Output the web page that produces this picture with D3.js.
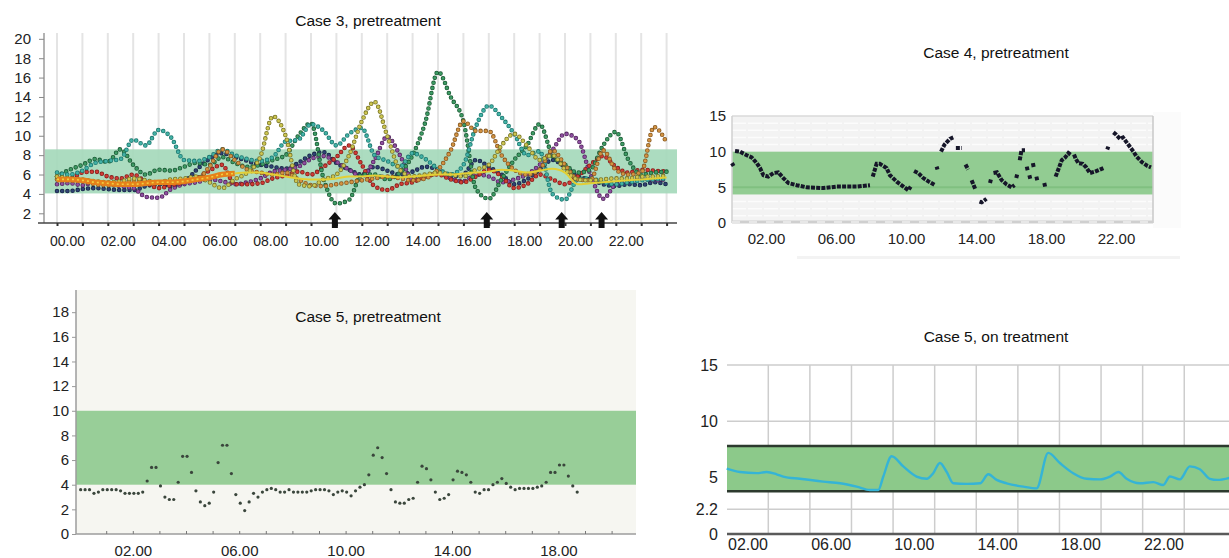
<!DOCTYPE html>
<html>
<head>
<meta charset="UTF-8">
<title>Glucose profiles, cases 3 to 5</title>
<style>
  body { margin: 0; background: #fff; }
  svg { display: block; font-family: "Liberation Sans", Arial, Helvetica, sans-serif; }
  .tick text { fill: #222; }
</style>
</head>
<body>
<svg id="chart" width="1229" height="558"></svg>
<script src="https://cdn.jsdelivr.net/npm/d3@7/dist/d3.min.js"></script>
<script>

/* DATA */

// case 3: several days overlaid, one reading every half hour from 00.00 to 24.00
var case3Hours = [0,0.5,1,1.5,2,2.5,3,3.5,4,4.5,5,5.5,6,6.5,7,7.5,8,8.5,9,9.5,10,10.5,11,11.5,12,12.5,
  13,13.5,14,14.5,15,15.5,16,16.5,17,17.5,18,18.5,19,19.5,20,20.5,21,21.5,22,22.5,23,23.5,24];
var case3Navy = [4.3,4.3,4.5,4.6,4.5,4.4,4.4,4.8,5.0,4.8,5.2,6.5,7.6,8.2,7.8,7.4,7.0,6.8,6.6,7.2,8.0,8.3,7.2,6.5,6.0,
  6.8,6.4,6.0,6.3,6.8,6.5,5.8,6.0,7.5,6.8,6.0,5.0,5.5,6.5,7.5,6.8,5.8,5.5,5.0,4.8,5.0,4.9,5.2,5.0];
var case3Purple = [5.0,5.1,4.9,5.2,5.0,4.8,4.6,3.7,3.6,4.5,5.0,5.2,5.5,5.3,5.0,5.2,5.6,6.3,6.5,6.8,7.6,7.9,7.3,6.5,5.8,
  7.5,9.9,8.0,5.5,5.8,6.2,5.6,5.3,6.0,5.8,5.2,5.5,6.0,7.0,8.5,10.2,9.6,6.0,3.5,5.0,5.3,5.6,5.4,5.5];
var case3Red = [5.8,5.6,6.2,6.3,5.8,5.6,6.0,5.2,4.6,4.9,5.2,5.6,6.4,7.0,5.0,5.0,5.1,5.6,5.9,6.3,6.0,6.8,7.8,9.0,7.0,
  4.8,4.4,5.0,5.2,5.8,6.0,5.5,5.2,5.8,6.5,5.8,4.6,5.0,6.0,5.5,5.0,5.8,7.0,7.9,6.8,6.2,6.5,6.4,6.3];
var case3Green = [5.8,6.5,7.0,7.6,7.3,8.6,7.0,6.0,6.5,6.4,6.8,7.2,7.0,7.8,7.2,6.8,7.0,7.5,8.0,10.0,11.3,5.5,3.0,3.4,6.0,
  6.0,5.5,6.2,8.0,11.4,16.6,14.0,11.5,4.5,3.5,5.5,7.5,9.0,11.2,8.0,7.0,6.2,6.5,9.0,10.4,7.5,6.0,6.2,6.3];
var case3Teal = [6.2,6.0,6.4,7.2,7.4,7.6,9.6,9.0,10.6,9.8,7.5,7.4,7.8,8.6,8.0,7.6,7.4,7.8,9.4,9.6,11.2,10.5,9.0,10.2,10.8,
  8.0,7.4,6.8,8.2,7.6,6.6,6.0,7.0,11.0,13.1,11.9,10.2,8.0,8.4,4.0,3.4,5.5,5.6,5.2,5.0,5.2,5.4,5.5,5.6];
var case3Orange = [5.5,5.4,5.3,5.0,4.9,5.0,5.4,5.2,5.1,5.2,5.3,5.5,6.8,8.6,7.5,6.5,6.2,6.0,6.2,5.5,4.9,4.8,5.0,5.2,5.4,
  5.6,5.8,5.6,5.4,5.6,6.5,8.5,11.5,10.5,10.5,8.0,6.5,6.0,6.5,8.5,7.0,5.5,5.4,8.5,6.5,6.0,6.2,10.9,9.3];
var case3Olive = [5.8,5.6,5.5,5.3,5.2,5.3,5.6,5.4,5.2,5.5,5.6,5.8,5.2,4.6,5.5,6.2,7.8,12.0,10.0,5.0,4.8,5.5,6.0,8.0,11.5,
  13.5,10.0,6.5,5.8,6.0,6.2,6.0,5.8,6.5,7.0,9.0,10.2,9.0,7.5,8.0,6.5,5.5,5.4,5.5,5.6,5.6,5.8,5.8,5.9];
var case3Trend = [5.5,5.5,5.4,5.2,5.1,5.0,5.0,5.1,5.2,5.2,5.3,5.5,5.7,6.0,6.1,6.2,6.2,6.0,5.8,5.6,5.5,5.5,5.6,5.8,5.8,
  5.9,5.8,5.7,5.8,5.9,6.0,6.0,6.1,6.2,6.3,6.5,6.4,6.2,6.4,6.6,6.2,5.0,5.1,5.2,5.3,5.4,5.5,5.6,5.7];
var case3Target = [4.05, 8.6];
var case3Arrows = [10.94, 16.92, 19.87, 21.44];

// case 4: runs of readings [hour, value]; gaps between runs
var case4Runs = [
  [[0.05,8.4],[0.15,8.0]],
  [[0.23,10.1],[0.51,10.0],[0.9,9.5],[1.18,9.2],[1.47,8.4],[1.66,7.7],[1.85,6.7],[2.13,6.5],[2.42,7.0],[2.7,7.1],
   [2.99,6.3],[3.28,5.6],[3.75,5.3],[4.32,5.0],[5.28,4.9],[6.04,5.1],[7.18,5.1],[7.94,5.3]],
  [[8.1,6.5],[8.32,8.3],[8.5,8.3],[8.7,8.0],[8.89,7.7],[9.08,6.7],[9.47,5.8],[9.85,5.1],[10.13,4.6],[10.27,5.1]],
  [[10.46,7.3],[10.7,7.0],[10.99,6.3],[11.3,5.8],[11.66,5.3]],
  [[11.75,7.9],[11.8,7.5]],
  [[12.0,10.0],[12.2,11.0],[12.51,11.8],[12.7,12.0]],
  [[12.85,10.5],[13.18,10.5]],
  [[13.4,8.2],[13.55,7.5]],
  [[13.75,6.0],[13.95,4.8]],
  [[14.2,3.0],[14.32,2.9],[14.6,3.4]],
  [[14.8,5.6],[14.85,6.1]],
  [[15.0,7.0],[15.2,7.1],[15.47,6.0],[15.75,5.4],[16.04,5.0],[16.2,5.3]],
  [[16.3,6.3],[16.35,6.8]],
  [[16.5,8.8],[16.6,10.2],[16.8,10.2]],
  [[16.9,7.9],[16.95,7.4]],
  [[17.05,6.7],[17.1,6.2]],
  [[17.25,8.4],[17.3,7.8]],
  [[17.45,6.5],[17.5,6.0]],
  [[17.9,5.6],[17.95,5.1]],
  [[18.55,6.5],[18.75,7.8],[18.9,8.8],[19.1,9.2],[19.28,9.8],[19.45,9.5]],
  [[19.6,9.6],[19.7,9.0],[19.85,8.4],[20.1,8.3],[20.3,7.8],[20.51,7.0],[20.8,7.2],[21.0,7.4],[21.28,7.7]],
  [[21.5,10.3],[21.56,10.7]],
  [[21.85,12.7],[22.0,12.4],[22.23,11.8],[22.4,12.0],[22.7,11.0],[23.0,10.0],[23.18,9.3],[23.5,8.5],[23.8,8.0],[24.0,7.8]]
];
var case4Target = [4, 10];

// case 5 pretreatment: one reading every 10 minutes from 00.02
var case5PreStart = 0.04;
var case5PreStep = 1 / 6;
var case5PreValues = [3.6,3.6,3.6,3.3,3.4,3.6,3.6,3.6,3.6,3.5,3.3,3.3,3.3,3.3,3.4,4.3,5.4,5.4,3.9,3.0,
  2.8,2.8,4.2,6.3,6.3,5.0,3.5,2.6,2.3,2.5,3.4,5.8,7.2,7.2,4.9,3.2,2.5,1.9,2.6,3.3,
  3.0,3.4,3.6,3.7,3.6,3.4,3.4,3.6,3.4,3.4,3.4,3.4,3.5,3.6,3.6,3.6,3.5,3.2,3.4,3.5,3.4,
  3.1,3.5,3.8,4.0,4.8,6.4,7.0,6.2,4.9,3.6,2.6,2.5,2.5,2.8,2.9,4.2,5.5,5.3,4.4,3.4,
  2.8,2.9,3.2,4.4,5.1,5.0,4.8,4.2,3.4,3.3,3.6,3.6,4.0,4.2,4.5,4.1,3.8,3.6,3.7,3.7,
  3.7,3.7,3.8,3.9,4.2,5.0,5.0,5.6,5.6,4.7,3.9,3.4];
var case5PreTarget = [4, 10];

// case 5 on treatment: continuous trace
var case5OnHours = [1.0,1.64,2.44,2.92,3.4,3.72,4.52,5.64,6.45,7.25,7.89,8.29,8.53,8.93,9.49,10.13,10.62,10.93,
  11.25,11.58,11.9,12.54,13.18,13.58,13.98,14.46,15.26,15.9,16.46,17.02,17.66,18.31,18.95,19.43,19.83,
  20.23,20.87,21.51,21.99,22.31,22.79,23.27,23.75,24.23,24.6,25.2];
var case5OnValues = [5.8,5.5,5.4,5.5,5.3,5.1,4.9,4.65,4.5,4.2,3.9,3.9,5.1,6.9,6.0,5.1,4.9,5.4,6.3,5.5,4.5,4.45,4.5,
  5.3,4.8,4.5,4.2,4.05,7.2,6.3,5.4,4.9,4.85,5.1,5.5,4.9,4.5,4.6,4.35,5.1,4.85,6.0,5.75,4.9,4.8,5.0];
var case5OnTarget = [3.8, 7.8];

var hourTicks4 = [2, 6, 10, 14, 18, 22];
var hourTicks3 = [0, 2, 4, 6, 8, 10, 12, 14, 16, 18, 20, 22];

/* HELPERS */

function hh(d) { return d3.format("02")(d) + ".00"; }

var svg = d3.select("#chart");

/* CASE 3, PRETREATMENT (top left) */

var x1 = d3.scaleLinear().domain([0, 24]).range([57, 666.6]);
var y1 = d3.scaleLinear().domain([1, 20.6]).range([223, 33]);
var p1 = svg.append("g");

p1.append("g").selectAll("line")
  .data(d3.range(0, 25))
  .enter().append("line")
    .attr("x1", function(d) { return x1(d); })
    .attr("x2", function(d) { return x1(d); })
    .attr("y1", 33).attr("y2", 223)
    .attr("stroke", "#e4e4e4").attr("stroke-width", 2);

p1.append("rect")
  .attr("x", 45).attr("width", 632)
  .attr("y", y1(case3Target[1]))
  .attr("height", y1(case3Target[0]) - y1(case3Target[1]))
  .attr("fill", "#a3d8b9").attr("opacity", 0.9);

var line1 = d3.line()
  .x(function(d, i) { return x1(case3Hours[i]); })
  .y(function(d) { return y1(d); })
  .curve(d3.curveMonotoneX);

var case3Colors = [
  { values: case3Navy,   fill: "#2f4373", edge: "#1a2548" },
  { values: case3Purple, fill: "#8f4fa1", edge: "#55295f" },
  { values: case3Red,    fill: "#cf3c36", edge: "#861f1b" },
  { values: case3Green,  fill: "#3e9b64", edge: "#1d5c37" },
  { values: case3Teal,   fill: "#43b2a6", edge: "#1d7870" },
  { values: case3Orange, fill: "#d39342", edge: "#885a22" },
  { values: case3Olive,  fill: "#cdc651", edge: "#7a7629" }
];

case3Colors.forEach(function(s) {
  p1.append("path")
    .attr("d", line1(s.values))
    .attr("fill", "none").attr("stroke", s.edge)
    .attr("stroke-width", 4.6).attr("stroke-linecap", "round")
    .attr("stroke-dasharray", "0 5.2");
  p1.append("path")
    .attr("d", line1(s.values))
    .attr("fill", "none").attr("stroke", s.fill)
    .attr("stroke-width", 3).attr("stroke-linecap", "round")
    .attr("stroke-dasharray", "0 5.2");
});

// running trend: thick orange in the early morning, thin yellow afterwards
var trendEarly = d3.line()
  .defined(function(d, i) { return case3Hours[i] <= 7; })
  .x(function(d, i) { return x1(case3Hours[i]); })
  .y(function(d) { return y1(d); })
  .curve(d3.curveMonotoneX);
var trendLate = d3.line()
  .defined(function(d, i) { return case3Hours[i] >= 7; })
  .x(function(d, i) { return x1(case3Hours[i]); })
  .y(function(d) { return y1(d); })
  .curve(d3.curveMonotoneX);

p1.append("path").attr("d", trendEarly(case3Trend))
  .attr("fill", "none").attr("stroke", "#e5811a").attr("stroke-width", 5.5);
p1.append("path").attr("d", trendEarly(case3Trend))
  .attr("fill", "none").attr("stroke", "#f0d040").attr("stroke-width", 1.6)
  .attr("stroke-dasharray", "2 3");
p1.append("path").attr("d", trendLate(case3Trend))
  .attr("fill", "none").attr("stroke", "#e3cf35").attr("stroke-width", 2);

// axes
p1.append("line").attr("x1", 44).attr("x2", 44).attr("y1", 33).attr("y2", 223)
  .attr("stroke", "#9a9a9a").attr("stroke-width", 1.5);
p1.append("g")
  .attr("transform", "translate(44,0)")
  .call(d3.axisLeft(y1).tickValues(d3.range(2, 21, 2)).tickSize(5).tickPadding(8))
  .call(function(g) {
    g.select(".domain").remove();
    g.selectAll("line").attr("stroke", "#888");
    g.selectAll("text").attr("font-size", 15);
  });

p1.append("line").attr("x1", 38).attr("x2", 677).attr("y1", 223).attr("y2", 223)
  .attr("stroke", "#444").attr("stroke-width", 1.5);
p1.append("g")
  .attr("transform", "translate(0,223)")
  .call(d3.axisBottom(x1).tickValues(d3.range(0, 25)).tickSize(3).tickFormat(""))
  .call(function(g) {
    g.select(".domain").remove();
    g.selectAll("line").attr("stroke", "#333").attr("stroke-width", 2);
  });
p1.append("g")
  .attr("transform", "translate(0,223)")
  .call(d3.axisBottom(x1).tickValues(hourTicks3).tickSize(0).tickFormat(hh))
  .call(function(g) {
    g.select(".domain").remove();
    g.selectAll("text").attr("font-size", 14).attr("y", 23).attr("dy", 0).attr("dx", 10);
  });

// arrows
p1.append("g").selectAll("path")
  .data(case3Arrows)
  .enter().append("path")
    .attr("transform", function(d) { return "translate(" + x1(d) + ",0)"; })
    .attr("d", "M0,212 L6.5,219.5 L3,219.5 L3,228 L-3,228 L-3,219.5 L-6.5,219.5 Z")
    .attr("fill", "#111");

p1.append("text")
  .attr("x", 368).attr("y", 26)
  .attr("text-anchor", "middle").attr("font-size", 15.5).attr("fill", "#111")
  .text("Case 3, pretreatment");

/* CASE 4, PRETREATMENT (top right) */

var x2 = d3.scaleLinear().domain([0, 24]).range([731, 1151]);
var y2 = d3.scaleLinear().domain([0, 15]).range([223, 116]);
var p2 = svg.append("g");

p2.append("rect").attr("x", 1153).attr("y", 112).attr("width", 28).attr("height", 116)
  .attr("fill", "#fbfbfb");
p2.append("rect").attr("x", 797).attr("y", 256).attr("width", 383).attr("height", 3)
  .attr("fill", "#f3f3f3");
p2.append("rect").attr("x", 732).attr("y", 116).attr("width", 421).attr("height", 107)
  .attr("fill", "#f3f3f3");

p2.append("g").selectAll("line")
  .data([1, 2, 3, 11, 12, 13, 14])
  .enter().append("line")
    .attr("x1", 732).attr("x2", 1153)
    .attr("y1", function(d) { return y2(d); })
    .attr("y2", function(d) { return y2(d); })
    .attr("stroke", "#fcfcfc").attr("stroke-width", 1.5)
    .attr("stroke-dasharray", "14 2");

p2.append("rect")
  .attr("x", 732).attr("width", 421)
  .attr("y", y2(case4Target[1]))
  .attr("height", y2(case4Target[0]) - y2(case4Target[1]))
  .attr("fill", "#92cc92");
p2.append("line").attr("x1", 732).attr("x2", 1153)
  .attr("y1", y2(5)).attr("y2", y2(5))
  .attr("stroke", "#80c080").attr("stroke-width", 2);

p2.append("line").attr("x1", 732).attr("x2", 1153).attr("y1", 116).attr("y2", 116)
  .attr("stroke", "#dadada").attr("stroke-width", 1.5);
p2.append("line").attr("x1", 1153).attr("x2", 1153).attr("y1", 116).attr("y2", 223)
  .attr("stroke", "#c8c8c8").attr("stroke-width", 1.5);
p2.append("line").attr("x1", 732).attr("x2", 732).attr("y1", 116).attr("y2", 223)
  .attr("stroke", "#d0d0d0").attr("stroke-width", 1.5);
p2.append("line").attr("x1", 732).attr("x2", 1153).attr("y1", 222).attr("y2", 222)
  .attr("stroke", "#cfcfcf").attr("stroke-width", 3);
p2.append("line").attr("x1", 732).attr("x2", 1153).attr("y1", 222).attr("y2", 222)
  .attr("stroke", "#fff").attr("stroke-width", 1.2).attr("stroke-dasharray", "8 9");

var line2 = d3.line()
  .x(function(d) { return x2(d[0]); })
  .y(function(d) { return y2(d[1]); });

p2.append("g").selectAll("path")
  .data(case4Runs)
  .enter().append("path")
    .attr("d", line2)
    .attr("fill", "none").attr("stroke", "#161629")
    .attr("stroke-width", 4).attr("stroke-dasharray", "4 1.2");

p2.append("g")
  .attr("transform", "translate(732,0)")
  .call(d3.axisLeft(y2).tickValues([0, 5, 10, 15]).tickSize(0).tickPadding(6))
  .call(function(g) {
    g.select(".domain").remove();
    g.selectAll("text").attr("font-size", 15);
  });
p2.append("g")
  .attr("transform", "translate(0,223)")
  .call(d3.axisBottom(x2).tickValues(hourTicks4).tickSize(0).tickFormat(hh))
  .call(function(g) {
    g.select(".domain").remove();
    g.selectAll("text").attr("font-size", 15).attr("y", 21).attr("dy", 0);
  });

p2.append("text")
  .attr("x", 996).attr("y", 58)
  .attr("text-anchor", "middle").attr("font-size", 15.5).attr("fill", "#111")
  .text("Case 4, pretreatment");

/* CASE 5, PRETREATMENT (bottom left) */

var x3 = d3.scaleLinear().domain([0, 21]).range([79.6, 638.2]);
var y3 = d3.scaleLinear().domain([0, 19.8]).range([534, 290]);
var p3 = svg.append("g");

p3.append("rect").attr("x", 76).attr("y", 290).attr("width", 560).attr("height", 244)
  .attr("fill", "#f6f6f1");

p3.append("rect")
  .attr("x", 76).attr("width", 560)
  .attr("y", y3(case5PreTarget[1]))
  .attr("height", y3(case5PreTarget[0]) - y3(case5PreTarget[1]))
  .attr("fill", "#98ce98");

p3.append("g").selectAll("circle")
  .data(case5PreValues)
  .enter().append("circle")
    .attr("cx", function(d, i) { return x3(case5PreStart + i * case5PreStep); })
    .attr("cy", function(d) { return y3(d); })
    .attr("r", 1.6)
    .attr("fill", "#3a463c");

p3.append("line").attr("x1", 76).attr("x2", 76).attr("y1", 290).attr("y2", 534)
  .attr("stroke", "#9c9c9c").attr("stroke-width", 1.5);
p3.append("line").attr("x1", 76).attr("x2", 636).attr("y1", 534).attr("y2", 534)
  .attr("stroke", "#9c9c9c").attr("stroke-width", 1.5);
p3.append("g")
  .attr("transform", "translate(76,0)")
  .call(d3.axisLeft(y3).tickValues(d3.range(0, 19, 2)).tickSize(4).tickPadding(3))
  .call(function(g) {
    g.select(".domain").remove();
    g.selectAll("line").attr("stroke", "#999");
    g.selectAll("text").attr("font-size", 15);
  });
p3.append("g")
  .attr("transform", "translate(0,534)")
  .call(d3.axisTop(x3).tickValues(d3.range(1, 21)).tickSize(3).tickFormat(""))
  .call(function(g) {
    g.select(".domain").remove();
    g.selectAll("line").attr("stroke", "#777");
  });
p3.append("g")
  .attr("transform", "translate(0,534)")
  .call(d3.axisBottom(x3).tickValues([2, 6, 10, 14, 18]).tickSize(0).tickFormat(hh))
  .call(function(g) {
    g.select(".domain").remove();
    g.selectAll("text").attr("font-size", 15).attr("y", 22).attr("dy", 0);
  });

p3.append("text")
  .attr("x", 368).attr("y", 322)
  .attr("text-anchor", "middle").attr("font-size", 15.5).attr("fill", "#111")
  .text("Case 5, pretreatment");

/* CASE 5, ON TREATMENT (bottom right) */

var x4 = d3.scaleLinear().domain([1, 25.2]).range([726.7, 1230]);
var y4 = d3.scaleLinear().domain([0, 15]).range([534, 365]);
var p4 = svg.append("g");

p4.append("g").selectAll("line")
  .data(d3.range(3, 24, 2))
  .enter().append("line")
    .attr("x1", function(d) { return x4(d); })
    .attr("x2", function(d) { return x4(d); })
    .attr("y1", 365).attr("y2", 534)
    .attr("stroke", "#cdcdcd").attr("stroke-width", 1.5);
p4.append("g").selectAll("line")
  .data([2.2, 10, 15])
  .enter().append("line")
    .attr("x1", 727).attr("x2", 1229)
    .attr("y1", function(d) { return y4(d); })
    .attr("y2", function(d) { return y4(d); })
    .attr("stroke", "#cdcdcd").attr("stroke-width", 1.5);

p4.append("rect")
  .attr("x", 727).attr("width", 502)
  .attr("y", y4(case5OnTarget[1]))
  .attr("height", y4(case5OnTarget[0]) - y4(case5OnTarget[1]))
  .attr("fill", "#8cc98a");
p4.append("g").selectAll("line")
  .data(case5OnTarget)
  .enter().append("line")
    .attr("x1", 727).attr("x2", 1229)
    .attr("y1", function(d) { return y4(d); })
    .attr("y2", function(d) { return y4(d); })
    .attr("stroke", "#2c3a2e").attr("stroke-width", 2.5);
p4.append("line").attr("x1", 727).attr("x2", 1229).attr("y1", 534).attr("y2", 534)
  .attr("stroke", "#5a5a5a").attr("stroke-width", 2.5);

var line4 = d3.line()
  .x(function(d, i) { return x4(case5OnHours[i]); })
  .y(function(d) { return y4(d); })
  .curve(d3.curveMonotoneX);
p4.append("path")
  .attr("d", line4(case5OnValues))
  .attr("fill", "none").attr("stroke", "#35b4d6").attr("stroke-width", 2.4);

p4.append("g")
  .attr("transform", "translate(727,0)")
  .call(d3.axisLeft(y4).tickValues([0, 2.2, 5, 10, 15]).tickSize(0).tickPadding(9)
    .tickFormat(function(d) { return String(d); }))
  .call(function(g) {
    g.select(".domain").remove();
    g.selectAll("text").attr("font-size", 16);
  });
p4.append("g")
  .attr("transform", "translate(0,534)")
  .call(d3.axisBottom(x4).tickValues(hourTicks4).tickSize(0).tickFormat(hh))
  .call(function(g) {
    g.select(".domain").remove();
    g.selectAll("text").attr("font-size", 16).attr("y", 16).attr("dy", 0);
  });

p4.append("text")
  .attr("x", 996).attr("y", 342)
  .attr("text-anchor", "middle").attr("font-size", 15.5).attr("fill", "#111")
  .text("Case 5, on treatment");

</script>
</body>
</html>
